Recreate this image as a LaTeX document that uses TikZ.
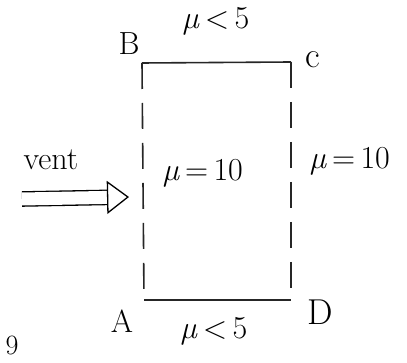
\documentclass[tikz,border=0pt]{standalone}
\usepackage{fontspec}
\usetikzlibrary{arrows.meta,positioning}
\tikzset{
	>=Triangle,%
	wall/.style={%
			line width=1.6pt,%
			draw=black!85},%
	openwall/.style={%
			wall,%
			dash pattern=on 26pt off 14pt},%
	lbl/.style={%
			font={\fontsize{32}{36}\selectfont},%
			anchor=base,%
			inner sep=0pt},%
	biglbl/.style={%
			lbl,%
			font={\fontsize{36}{40}\selectfont}},%
	windarrow/.style={%
			line width=1.3pt,%
			double,%
			double distance=13pt,%
			-{Triangle[open,length=22pt,width=33pt,line width=1.3pt]}},%
}
\newcommand{\visc}[2]{\textit{µ}\,#1\,#2}
\begin{document}
\begin{tikzpicture}[x=1pt,y=-1pt]%
	\useasboundingbox (0,0) rectangle (407,363);
	% corners of the domain
	\coordinate (A) at (144,300);
	\coordinate (B) at (142,63);
	\coordinate (C) at (291,62);
	\coordinate (D) at (291,300);

	\node[lbl] (labA) at (122,333) {A};
	\node[lbl] (labB) at (129,55) {B};
	\node[biglbl] (labC) at (313,68) {c};
	\node[biglbl] (labD) at (320,324) {D};

	\node[lbl] (mutop) at (216,29) {\visc{<}{5}};
	\node[lbl] (mubot) at (214,338) {\visc{<}{5}};
	\node[lbl] (muin) at (203,181) {\visc{=}{10}};
	\node[lbl] (muright) at (350,169) {\visc{=}{10}};
	\node[lbl] (vent) at (51,170) {vent};
	\node[lbl, font={\fontsize{28}{32}\selectfont}] (num) at (12,354) {9};

	\coordinate (windfrom) at (22,199);
	\coordinate (windto) at (129,197);

	\draw[wall] (B) -- (C);
	\draw[wall] (A) -- (D);
	\draw[openwall] (B) -- (A);
	\draw[openwall] (C) -- (D);
	\draw[windarrow] (windfrom) -- (windto);
\end{tikzpicture}
\end{document}
